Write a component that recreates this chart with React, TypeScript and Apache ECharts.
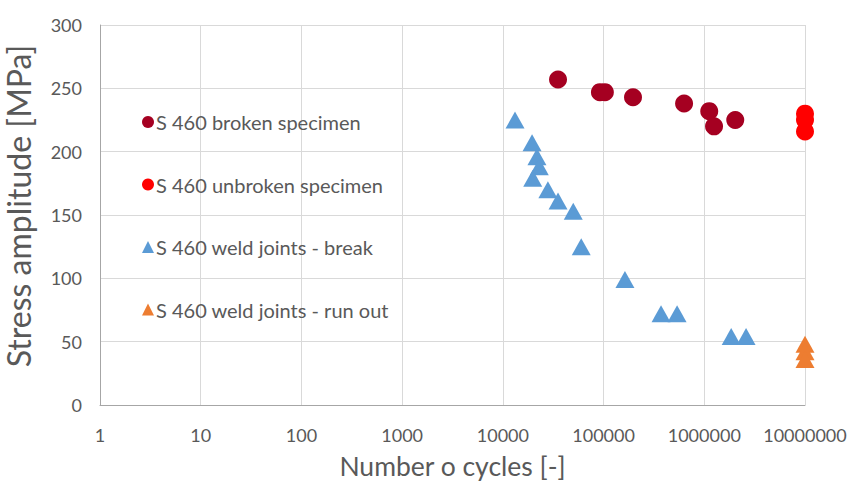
import React, { useEffect, useRef } from "react";
import * as echarts from "echarts";

const brokenCycles = [35300, 92000, 103000, 196000, 630000, 1120000, 1250000, 2030000];
const brokenStress = [257, 247, 247, 243, 238, 232, 220, 225];

const unbrokenCycles = [10000000, 10000000, 10000000];
const unbrokenStress = [230, 225, 216];

const weldBreakCycles = [13200, 19500, 21800, 23000, 19800, 28000, 35300, 50000, 60000, 163000, 372000, 537000, 1850000, 2600000];
const weldBreakStress = [225, 207, 196, 188, 179, 170, 161, 153, 125, 99, 72, 72, 54, 54];

const runOutCycles = [10000000, 10000000, 10000000];
const runOutStress = [48, 42, 36];

const yTicks = [0, 50, 100, 150, 200, 250, 300];

const seriesNames = [
  "S 460 broken specimen",
  "S 460 unbroken specimen",
  "S 460 weld joints - break",
  "S 460 weld joints - run out",
];

const zip = (xs: number[], ys: number[]) => xs.map((x, i) => [x, ys[i]]);

const FONT = "Lato";
const GRAY = "#595959";

export default function App() {
  const ref = useRef<HTMLDivElement>(null);
  useEffect(() => {
    if (!ref.current) return;
    const chart = echarts.init(ref.current, null, { renderer: "svg" });
    chart.setOption({
      animation: false,
      backgroundColor: "#ffffff",
      textStyle: { fontFamily: FONT },
      grid: { left: 100, right: 47, top: 25, bottom: 78, outerBoundsMode: "none", containLabel: false },
      legend: {
        orient: "vertical",
        left: 137,
        top: 106,
        itemGap: 40.5,
        itemWidth: 12,
        itemHeight: 12,
        selectedMode: false,
        textStyle: { fontFamily: FONT, fontSize: 20, color: GRAY, lineHeight: 22, padding: [0, 0, 0, -3] },
        data: [
          { name: seriesNames[0], icon: "circle" },
          { name: seriesNames[1], icon: "circle" },
          { name: seriesNames[2], icon: "triangle" },
          { name: seriesNames[3], icon: "triangle" },
        ],
      },
      xAxis: {
        type: "log",
        logBase: 10,
        min: 1,
        max: 10000000,
        name: "Number o cycles [-]",
        nameLocation: "middle",
        nameGap: 48,
        nameTextStyle: { fontFamily: FONT, fontSize: 26.5, lineHeight: 26, color: GRAY },
        axisLine: { show: true, lineStyle: { color: "#a6a6a6", width: 1 } },
        axisTick: { show: false },
        axisLabel: {
          fontFamily: FONT,
          fontSize: 18,
          color: GRAY,
          margin: 21,
          formatter: (v: number) => String(Math.round(v)),
        },
        splitLine: { show: true, lineStyle: { color: "#d9d9d9", width: 1 } },
        minorTick: { show: false },
      },
      yAxis: {
        type: "value",
        min: yTicks[0],
        max: yTicks[yTicks.length - 1],
        interval: 50,
        name: "Stress amplitude [MPa]",
        nameLocation: "middle",
        nameGap: 66,
        nameTextStyle: { fontFamily: FONT, fontSize: 32, color: GRAY, padding: [0, 0, 0, 18] },
        axisLine: { show: true, lineStyle: { color: "#a6a6a6", width: 1 } },
        axisTick: { show: false },
        axisLabel: { fontFamily: FONT, fontSize: 18, color: GRAY, margin: 18 },
        splitLine: { show: true, lineStyle: { color: "#d9d9d9", width: 1 } },
      },
      series: [
        {
          name: seriesNames[0],
          type: "scatter",
          symbol: "circle",
          symbolSize: 18,
          itemStyle: { color: "#a50021", opacity: 1 },
          data: zip(brokenCycles, brokenStress),
        },
        {
          name: seriesNames[1],
          type: "scatter",
          symbol: "circle",
          symbolSize: 18,
          itemStyle: { color: "#ff0000", opacity: 1 },
          data: zip(unbrokenCycles, unbrokenStress),
        },
        {
          name: seriesNames[2],
          type: "scatter",
          symbol: "triangle",
          symbolSize: [19, 17],
          itemStyle: { color: "#5b9bd5", opacity: 1 },
          data: zip(weldBreakCycles, weldBreakStress),
        },
        {
          name: seriesNames[3],
          type: "scatter",
          symbol: "triangle",
          symbolSize: [19, 17],
          itemStyle: { color: "#ed7d31", opacity: 1 },
          data: zip(runOutCycles, runOutStress),
        },
      ],
    });
    return () => chart.dispose();
  }, []);
  return <div ref={ref} style={{ width: 852, height: 483, position: "absolute", left: 0, top: 0 }} />;
}
